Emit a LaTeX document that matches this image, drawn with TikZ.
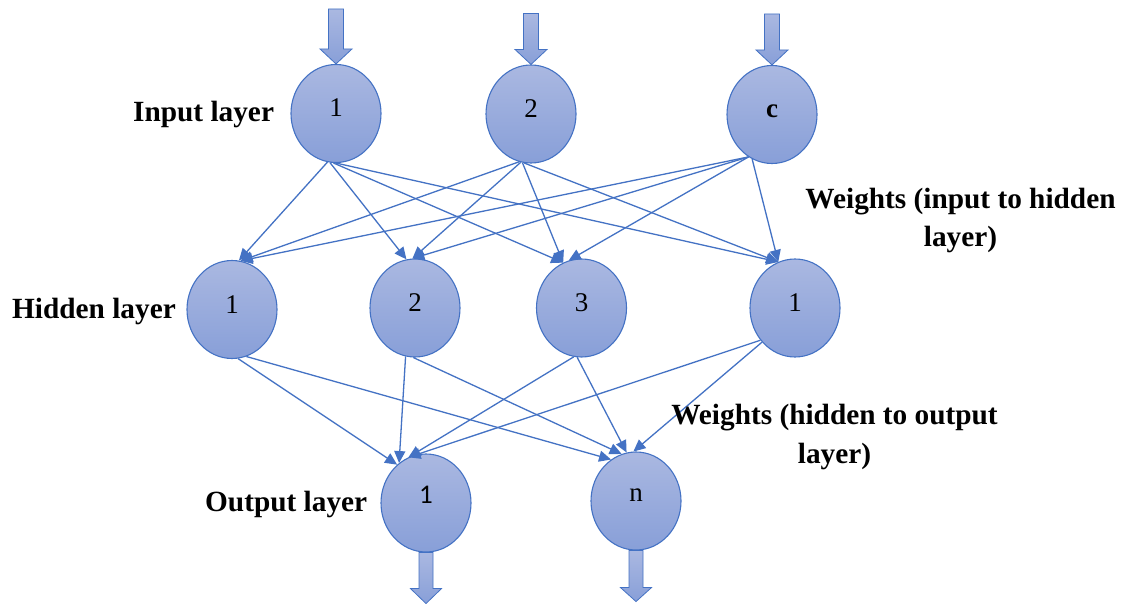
\documentclass[tikz,border=0pt]{standalone}
\usepackage{fontspec}
\setmainfont{Liberation Serif}
\newfontfamily\numsans{Carlito}
\usetikzlibrary{arrows.meta,shapes.geometric,calc}
\definecolor{accent}{RGB}{68,114,196}
\definecolor{fillTop}{RGB}{170,184,225}
\definecolor{fillBot}{RGB}{136,159,216}

\begin{document}
\begin{tikzpicture}[x=1pt,y=-1pt,
  neuron/.style={ellipse, draw=accent, line width=1.1pt, top color=fillTop, bottom color=fillBot,
    minimum width=90pt, minimum height=98pt, inner sep=0pt,
    font=\fontsize{27}{27}\selectfont, text height=12pt, text depth=5pt},
  outneuron/.style={neuron, text height=9pt, text depth=9pt},
  edge/.style={draw=accent, line width=1.3pt, -{Triangle[length=12pt,width=11pt]}},
  layerlabel/.style={font=\fontsize{29.3}{39}\selectfont\bfseries, inner sep=0pt, anchor=base west},
  weightlabel/.style={font=\fontsize{29.3}{39}\selectfont\bfseries, inner sep=0pt, align=center, anchor=base},
  blockarrow/.style={draw=accent, line width=0.8pt, top color=fillTop, bottom color=fillBot, line join=miter}
]
\fill[white] (0,0) rectangle (1124,604);
\useasboundingbox (0,0) rectangle (1124,604);

% input layer
\node[neuron] (i1) at (336,113.5) {1};
\node[neuron] (i2) at (531,114) {2};
\node[neuron] (ic) at (772,114.5) {\bfseries c};
% hidden layer
\node[neuron] (h1) at (232,309.5) {1};
\node[neuron] (h2) at (415,308) {2};
\node[neuron] (h3) at (581.5,308) {3};
\node[neuron] (h4) at (795,308) {1};
% output layer
\node[outneuron] (o1) at (426,503) {\numsans 1};
\node[outneuron] (o2) at (636,501) {n};

% incoming block arrows
\path[blockarrow] (i1.north) -- ++(-16,-15) -- ++(8.5,0) -- ++(0,-40) -- ++(15,0) -- ++(0,40) -- ++(8.5,0) -- cycle;
\path[blockarrow] (i2.north) -- ++(-16,-15) -- ++(8.5,0) -- ++(0,-36) -- ++(15,0) -- ++(0,36) -- ++(8.5,0) -- cycle;
\path[blockarrow] (ic.north) -- ++(-16,-15) -- ++(8.5,0) -- ++(0,-36) -- ++(15,0) -- ++(0,36) -- ++(8.5,0) -- cycle;

% outgoing block arrows
\path[blockarrow] ($(o1.south)+(-7,0)$) -- ++(0,36) -- ++(-8.5,0) -- ++(15.5,15) -- ++(15.5,-15) -- ++(-8.5,0) -- ++(0,-36) -- cycle;
\path[blockarrow] ($(o2.south)+(-7,0)$) -- ++(0,37) -- ++(-8.5,0) -- ++(15.5,14) -- ++(15.5,-14) -- ++(-8.5,0) -- ++(0,-37) -- cycle;

% weights: input to hidden
\draw[edge] (i1.-100) -- (h1.82);
\draw[edge] (i1.-97) -- (h2.100);
\draw[edge] (i1.-93) -- (h3.112);
\draw[edge] (i1.-90) -- (h4.110);
\draw[edge] (i2.-104) -- (h1.80);
\draw[edge] (i2.-102) -- (h2.93);
\draw[edge] (i2.-100) -- (h3.112);
\draw[edge] (i2.-98) -- (h4.110);
\draw[edge] (ic.-119) -- (h1.80);
\draw[edge] (ic.-119) -- (h2.93);
\draw[edge] (ic.-119) -- (h3.105);
\draw[edge] (ic.-114) -- (h4.110);

% weights: hidden to output
\draw[edge] (h1.-83) -- (o1.127);
\draw[edge] (h1.-73) -- (o2.121);
\draw[edge] (h2.-101) -- (o1.124);
\draw[edge] (h2.-92) -- (o2.107);
\draw[edge] (h3.-99) -- (o1.111);
\draw[edge] (h3.-95) -- (o2.101);
\draw[edge] (h4.-137) -- (o1.111);
\draw[edge] (h4.-134) -- (o2.93);

% labels (multi-line nodes are anchored at the baseline of their last line)
\node[layerlabel] (lin) at (133,122) {Input layer};
\node[layerlabel] (lhid) at (12,318) {Hidden layer};
\node[layerlabel] (lout) at (205,511) {Output layer};
\node[weightlabel] (wih) at (960.5,247) {Weights (input to hidden\\layer)};
\node[weightlabel] (who) at (834.5,463) {Weights (hidden to output\\layer)};
\end{tikzpicture}
\end{document}
